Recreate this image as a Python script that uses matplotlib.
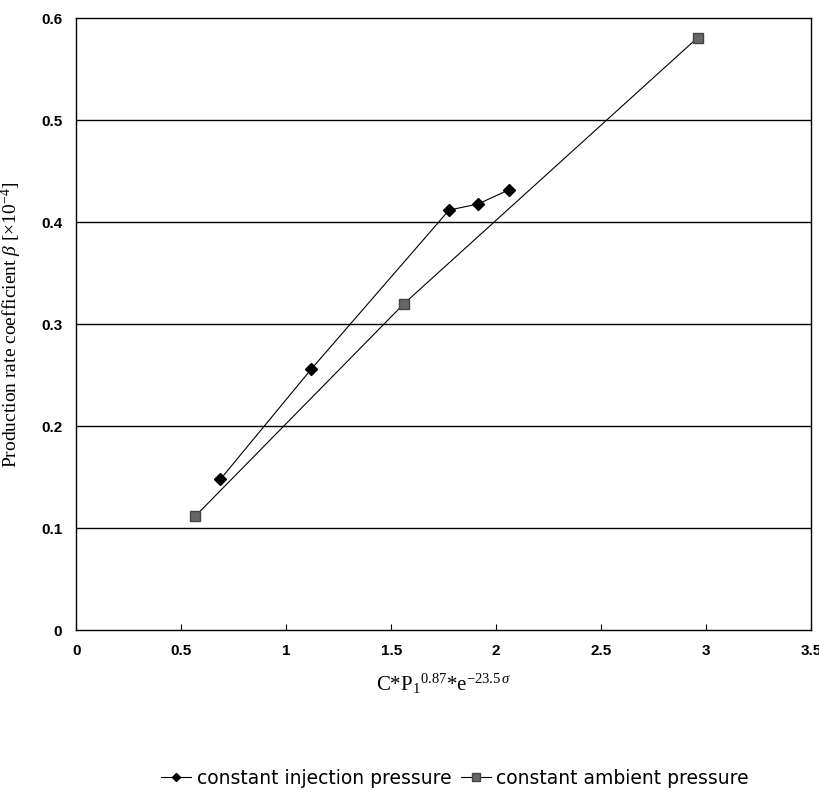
import numpy as np
from matplotlib import pyplot as plt

plt.rcParams['mathtext.fontset'] = 'custom'
plt.rcParams['mathtext.rm'] = 'Liberation Serif'
plt.rcParams['mathtext.it'] = 'Liberation Serif:italic'
plt.rcParams['mathtext.default'] = 'rm'

# data
inj_x = [0.686, 1.119, 1.776, 1.914, 2.062]
inj_y = [0.148, 0.256, 0.412, 0.418, 0.432]
amb_x = [0.567, 1.56, 2.96]
amb_y = [0.112, 0.320, 0.581]

xticks = [0, 0.5, 1, 1.5, 2, 2.5, 3, 3.5]
xtick_labels = ['0', '0.5', '1', '1.5', '2', '2.5', '3', '3.5']
yticks = [0, 0.1, 0.2, 0.3, 0.4, 0.5, 0.6]
ytick_labels = ['0', '0.1', '0.2', '0.3', '0.4', '0.5', '0.6']

fig = plt.figure(figsize=(8.2, 7.95), dpi=100)
ax = fig.add_axes([0.093, 0.207, 0.896, 0.770])

for y in yticks[1:-1]:
    ax.axhline(y=y, color='black', linewidth=1.0, zorder=1)

ax.plot(inj_x, inj_y, color='black', linewidth=0.8, marker='D', markersize=6,
        markerfacecolor='black', markeredgecolor='black',
        label='constant injection pressure', zorder=3)
ax.plot(amb_x, amb_y, color='black', linewidth=0.8, marker='s', markersize=7,
        markerfacecolor='#666666', markeredgecolor='#444444',
        label='constant ambient pressure', zorder=3)

ax.set_xlim(0, 3.5)
ax.set_ylim(0, 0.6)
ax.set_xticks(xticks)
ax.set_xticklabels(xtick_labels, fontfamily='Liberation Sans', fontweight='bold', fontsize=11)
ax.set_yticks(yticks)
ax.set_yticklabels(ytick_labels, fontfamily='Liberation Sans', fontweight='bold', fontsize=11)
ax.tick_params(axis='x', direction='in', length=4, pad=10)
ax.tick_params(axis='y', length=0, pad=10)
for s in ax.spines.values():
    s.set_linewidth(1.0)

ax.set_xlabel(r'C*P$_1$$^{0.87}$*e$^{-23.5\,\mathit{\sigma}}$', fontfamily='Liberation Serif',
              fontsize=15, labelpad=10)
ax.set_ylabel(r'Production rate coefficient $\mathit{\beta}$ [$\times$10$^{-4}$]',
              fontfamily='Liberation Serif', fontsize=14, labelpad=12)

fig.legend(loc='center', bbox_to_anchor=(0.555, 0.021), ncol=2, frameon=False,
           prop={'family': 'DejaVu Sans', 'size': 13.5}, handlelength=1.6,
           handletextpad=0.3, columnspacing=0.5, markerscale=0.75)

fig.savefig('out.png', dpi=100)
